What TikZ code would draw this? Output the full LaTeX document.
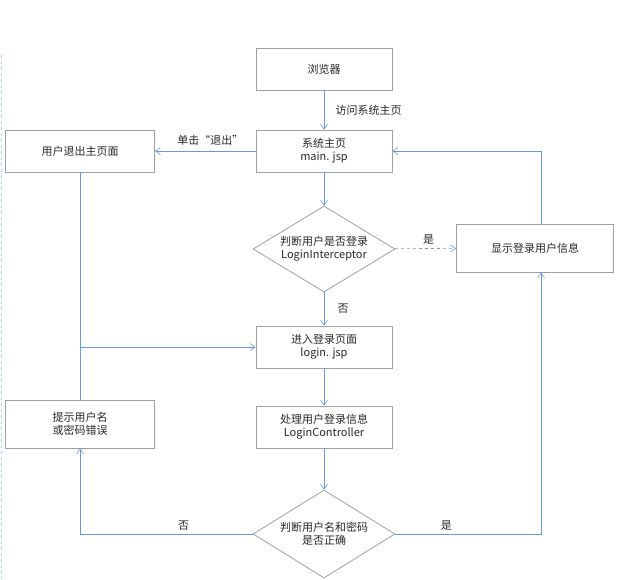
\documentclass[tikz,border=0pt]{standalone}
\usepackage{fontspec}
\setmainfont{Noto Sans CJK SC}
\usetikzlibrary{shapes.geometric,arrows.meta}
\definecolor{ln}{RGB}{100,155,220}
\definecolor{bd}{RGB}{160,160,160}
\definecolor{tx}{RGB}{40,40,40}
\begin{document}
\begin{tikzpicture}[x=1pt,y=-1pt,
  font=\fontsize{11pt}{13pt}\selectfont, text=tx,
  box/.style={draw=bd,fill=white,thick,minimum width=136pt,minimum height=42pt,align=center,inner sep=1pt},
  dia/.style={diamond,draw=bd,fill=white,thick,aspect=1.65,minimum width=142pt,minimum height=86pt,align=center,inner sep=0pt},
  con/.style={draw=ln,semithick,-{Straight Barb[length=5pt,width=7pt]}},
  lnk/.style={draw=ln,semithick},
  lab/.style={font=\fontsize{11pt}{13pt}\selectfont}]
\useasboundingbox (0,0) rectangle (626,579);
\draw[ln!50,dashed] (1,55) -- (1,579);
\node[box] (b) at (324,69) {浏览器};
\node[box] (m) at (324,151) {系统主页\\main. jsp};
\node[dia] (d1) at (324,249) {判断用户是否登录\\LoginInterceptor};
\node[box,minimum width=157pt,minimum height=48pt] (s) at (535,248) {显示登录用户信息};
\node[box,minimum width=149pt] (q) at (80,151) {用户退出主页面};
\node[box] (l) at (324,347) {进入登录页面\\login. jsp};
\node[box] (p) at (324,427) {处理用户登录信息\\LoginController};
\node[dia,minimum height=88pt] (d2) at (324,534) {判断用户名和密码\\是否正确};
\node[box,minimum width=149pt,minimum height=48pt] (e) at (80,424) {提示用户名\\或密码错误};
\coordinate (j) at (80,347);
\coordinate (c1) at (541,151);
\coordinate (c2) at (80,534);
\coordinate (c3) at (541,534);
\path[con] (b) -- node[right,lab,xshift=8pt]{访问系统主页} (m);
\path[con] (m) -- node[above,lab,pos=0.45,yshift=2pt]{单击“退出”} (q);
\path[con] (m) -- (d1);
\path[con,dashed] (d1) -- node[above,lab,pos=0.55]{是} (s);
\path[con] (s.north -| c1) -- (c1) -- (m.east);
\path[con] (d1) -- node[right,lab,xshift=10pt]{否} (l);
\path[lnk] (q) -- (e);
\path[con] (j) -- (l.west);
\path[con] (l) -- (p);
\path[con] (p) -- (d2);
\path[con] (d2.west) -- node[above,lab,pos=0.4]{否} (c2) -- (e);
\path[con] (d2.east) -- node[above,lab,pos=0.35]{是} (c3) -- (s.south -| c3);
\end{tikzpicture}
\end{document}
